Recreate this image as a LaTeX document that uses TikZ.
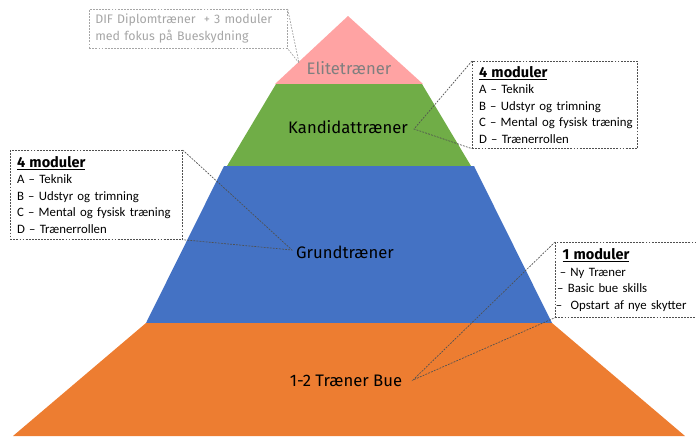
\documentclass[tikz,border=0pt]{standalone}
\usepackage{fontspec}
\setmainfont{Carlito}
\newfontfamily\dinfont{Fira Sans}
\definecolor{pinkc}{HTML}{FFA3A3}
\definecolor{greenc}{HTML}{70AD47}
\definecolor{bluec}{HTML}{4472C4}
\definecolor{orangec}{HTML}{ED7D31}
\definecolor{elitegray}{HTML}{7F7F7F}
\definecolor{lightgray}{HTML}{A6A6A6}
\definecolor{linegray}{HTML}{505050}
\newcommand{\nohyph}{\hyphenpenalty=10000\relax\exhyphenpenalty=10000\relax}
\tikzset{
  lbl/.style={font=\dinfont\fontsize{12.5}{15}\selectfont, inner sep=0pt},
  callbox/.style={draw=linegray, dash pattern=on 1.4pt off 0.9pt, line width=0.5pt, fill=white,
    anchor=north west, align=left, inner xsep=5pt, inner ysep=0pt,
    font=\fontsize{9.6}{12.4}\selectfont, execute at begin node=\nohyph},
  callline/.style={draw=linegray, dash pattern=on 1.4pt off 0.9pt, line width=0.5pt},
  greybox/.style={draw=lightgray, dash pattern=on 1.4pt off 0.9pt, line width=0.5pt, fill=white,
    anchor=north west, align=left, inner xsep=4.5pt, inner ysep=0pt, text=lightgray,
    font=\dinfont\fontsize{9.3}{12.75}\selectfont, execute at begin node=\nohyph},
  greyline/.style={draw=lightgray, dash pattern=on 1.4pt off 0.9pt, line width=0.5pt},
}
\newcommand{\boxhead}[1]{{\dinfont\bfseries\fontsize{10.9}{12.4}\selectfont\underline{#1}}}
\begin{document}
\begin{tikzpicture}[x=0.75pt,y=-0.75pt]
\useasboundingbox (0,0) rectangle (696,436);
% pyramid layers
\fill[pinkc] (348,16) -- (423,84) -- (275,84) -- cycle;
\fill[greenc] (276,84) -- (422,84) -- (471,166) -- (227,166) -- cycle;
\fill[bluec] (224,166) -- (474,166) -- (552,323) -- (146,323) -- cycle;
\fill[orangec] (146,323) -- (552,323) -- (685,436) -- (13,436) -- cycle;
% labels
\node[lbl, text=elitegray] (elite) at (349,68) {Elitetræner};
\node[lbl] (kand) at (348,127) {Kandidattræner};
\node[lbl] (grund) at (345,252) {Grundtræner};
\node[lbl] (bue) at (346,381) {1-2 Træner Bue};
% callout tips
\coordinate (eliteTip) at (299,63);
\coordinate (kandTip) at (414,129);
\coordinate (grundTip) at (292,250);
\coordinate (bueTip) at (413,380);
% boxes
\node[greybox, minimum width=148.5pt, minimum height=29.25pt, text width=139.5pt] (tlbox) at (89,9)
  {\mbox{DIF Diplomtræner\ \ + 3 moduler}\\\mbox{med fokus på Bueskydning}};
\node[callbox, minimum width=123.75pt, minimum height=65.25pt, text width=113.75pt] (rbox) at (472,61)
  {\boxhead{4 moduler}\\\mbox{A – Teknik}\\\mbox{B – Udstyr og trimning}\\\mbox{C – Mental og fysisk træning}\\\mbox{D – Trænerrollen}};
\node[callbox, minimum width=129pt, minimum height=66.75pt, text width=119pt] (lbox) at (10,150)
  {\boxhead{4 moduler}\\\mbox{A – Teknik}\\\mbox{B – Udstyr og trimning}\\\mbox{C – Mental og fysisk træning}\\\mbox{D – Trænerrollen}};
\node[callbox, minimum width=108.75pt, minimum height=56.25pt, text width=108pt, inner xsep=0pt] (brbox) at (555,242)
  {\hspace*{5pt}\boxhead{1 moduler}\\\hspace*{3pt}\mbox{– Ny Træner}\\\hspace*{1pt}\mbox{– Basic bue skills}\\\mbox{– \ Opstart af nye skytter}};
% callout pointers
\draw[greyline] (tlbox.north east) -- (eliteTip) -- (tlbox.south east);
\draw[callline] (rbox.north west) -- (kandTip) -- (rbox.south west);
\draw[callline] (lbox.north east) -- (grundTip) -- (lbox.south east);
\draw[callline] (brbox.north west) -- (bueTip) -- (brbox.south west);
\end{tikzpicture}
\end{document}
